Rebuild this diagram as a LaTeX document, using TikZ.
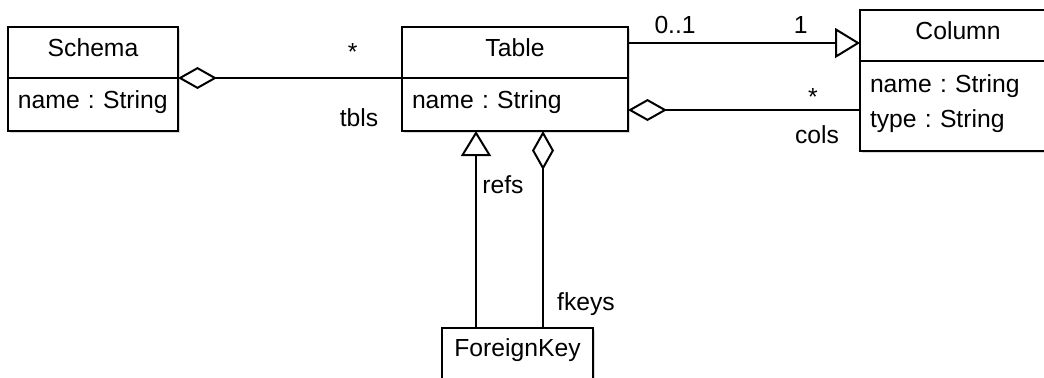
\documentclass[tikz,border=0pt]{standalone}
\usepackage{fontspec}
\setmainfont{Liberation Sans}
\usetikzlibrary{shapes,arrows.meta,positioning,shadows}

\begin{document}
\begin{tikzpicture}[
    x=0.5pt, y=-0.5pt,
    every node/.style={
        font=\fontsize{12.35}{17.5}\selectfont\frenchspacing
    },
    classhead/.style={
        rectangle,
        draw,
        fill=white,
        line width=1pt,
        outer sep=0pt,
        inner sep=0pt,
        minimum height=25.5pt,
        text height=9pt,
        text depth=5.5pt,
        drop shadow={shadow xshift=1pt, shadow yshift=-1pt, opacity=0.3}
    },
    classattr/.style={
        rectangle,
        draw,
        fill=white,
        line width=1pt,
        outer sep=0pt,
        inner xsep=5pt,
        inner ysep=0pt,
        align=left,
        text height=9pt,
        text depth=5.5pt,
        drop shadow={shadow xshift=1pt, shadow yshift=-1pt, opacity=0.3}
    },
    aggr/.style={
        {Diamond[open,length=19.5pt,width=11pt]}-,
        line width=1pt
    },
    tri/.style={
        -{Triangle[open,length=12.5pt,width=15pt]},
        line width=1pt
    },
    lbl/.style={
        inner sep=0pt,
        text height=9pt,
        text depth=2.6pt
    }
]

\useasboundingbox (0,0) rectangle (1044,377);

% Schema
\node[classhead, minimum width=85pt] (shead) at (93,52.5) {Schema};
\node[classattr, text width=75pt, minimum height=26.5pt, below=0pt of shead] (sattr) {name : String};

% Table
\node[classhead, minimum width=113pt, right=112pt of shead] (thead) {Table};
\node[classattr, text width=103pt, minimum height=26.5pt, below=0pt of thead] (tattr) {name : String};

% Column
\node[classhead, minimum width=98pt] (chead) at (958,35.5) {Column};
\node[classattr, text width=88pt, minimum height=45pt, text height=9pt, text depth=23pt, below=0pt of chead] (cattr) {name : String\\type : String};

% ForeignKey
\node[classhead, minimum width=75.5pt, below=98.25pt of tattr, xshift=1.25pt] (fhead) {ForeignKey};
\node[classattr, text width=65.5pt, minimum height=26.5pt, below=0pt of fhead] (fattr) {};

% Associations
\draw[aggr] (shead.south east) -- (thead.south west)
    node[lbl, pos=0.78, yshift=11.85pt] (tblsmult) {*}
    node[lbl, pos=0.808, yshift=-20.8pt] (tblsrole) {tbls};
\draw[tri] ([yshift=4.75pt]thead.east) -- ([yshift=4.75pt]thead.east -| chead.west)
    node[lbl, pos=0.203, yshift=8.2pt] (colsrc) {0..1}
    node[lbl, pos=0.744, yshift=8.2pt] (coldst) {1};
\draw[aggr] ([yshift=-2.75pt]tattr.east) -- ([yshift=-2.75pt]tattr.east -| cattr.west)
    node[lbl, pos=0.797, yshift=5.35pt] (colsmult) {*}
    node[lbl, pos=0.815, yshift=-13.3pt] (colsrole) {cols};
\draw[tri] ([xshift=-20.75pt]fhead.north) -- ([xshift=-20.75pt]fhead.north |- tattr.south)
    node[lbl, pos=0.717, xshift=13.5pt] (refsrole) {refs};
\draw[aggr] ([xshift=12.75pt]fhead.north |- tattr.south) -- ([xshift=12.75pt]fhead.north)
    node[lbl, pos=0.883, xshift=21.5pt] (fkeysrole) {fkeys};

\end{tikzpicture}
\end{document}
